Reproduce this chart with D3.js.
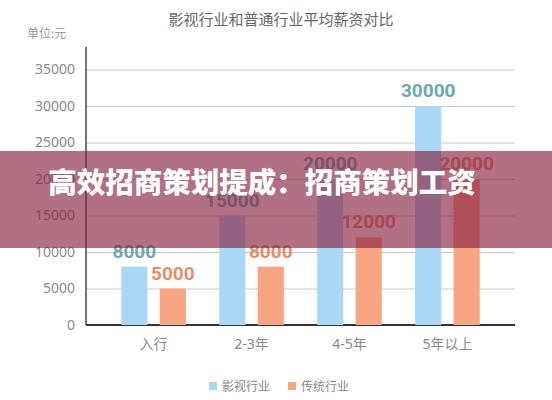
<!DOCTYPE html>
<html lang="zh">
  <head>
    <meta charset="utf-8" />
    <title>影视行业和普通行业平均薪资对比</title>
    <script src="https://d3js.org/d3.v7.min.js"></script>
    <style>
      body {
        margin: 0;
        background: #fff;
      }
      svg {
        display: block;
        font-family: "Noto Sans CJK SC", "Noto Sans", sans-serif;
      }
      .tick text {
        fill: #8a8a8a;
        font-size: 14px;
        font-family: "Noto Sans", "Noto Sans CJK SC", sans-serif;
      }
      .value {
        font-family: Roboto, sans-serif;
        font-weight: 700;
        font-size: 19px;
        text-anchor: middle;
      }
    </style>
  </head>
  <body>
    <svg id="chart" width="552" height="400"></svg>
    <script>
      // 数据
      const categories = ["入行", "2-3年", "4-5年", "5年以上"];
      const seriesNames = ["影视行业", "传统行业"];
      const filmValues = [8000, 15000, 20000, 30000];
      const tradValues = [5000, 8000, 12000, 20000];
      const yTicks = [0, 5000, 10000, 15000, 20000, 25000, 30000, 35000];

      const barColors = ["#aad7f6", "#f8a583"];
      const labelColors = ["#6ea8ae", "#e48f66"];

      const svg = d3.select("#chart");
      const left = 86,
        right = 515,
        bottom = 325;

      const y = d3.scaleLinear().domain([0, 35000]).range([bottom, 69.5]);

      const x0 = d3
        .scaleBand()
        .domain(categories)
        .range([left, right])
        .paddingInner(0.34)
        .paddingOuter(0.36);

      const x1 = d3
        .scaleBand()
        .domain(seriesNames)
        .range([0, x0.bandwidth()])
        .paddingInner(0.32);

      // 网格线 + y轴刻度
      const yAxis = svg
        .append("g")
        .attr("transform", `translate(${left},0)`)
        .call(
          d3
            .axisLeft(y)
            .tickValues(yTicks)
            .tickFormat(d3.format("d"))
            .tickSize(-(right - left))
            .tickPadding(11)
        );
      yAxis.select(".domain").remove();
      yAxis.selectAll(".tick line").attr("stroke", "#c8c8c8");

      // 轴线
      svg
        .append("line")
        .attr("x1", left)
        .attr("x2", left)
        .attr("y1", 47)
        .attr("y2", bottom)
        .attr("stroke", "#444")
        .attr("stroke-width", 1.5);
      svg
        .append("line")
        .attr("x1", left)
        .attr("x2", right)
        .attr("y1", bottom)
        .attr("y2", bottom)
        .attr("stroke", "#333")
        .attr("stroke-width", 2);

      // x轴标签
      const xAxis = svg
        .append("g")
        .attr("transform", `translate(0,${bottom})`)
        .call(d3.axisBottom(x0).tickSize(0).tickPadding(14));
      xAxis.select(".domain").remove();

      // 柱子
      const rows = categories.map((c, i) => ({
        cat: c,
        vals: [filmValues[i], tradValues[i]],
      }));

      const groups = svg
        .append("g")
        .selectAll("g")
        .data(rows)
        .join("g")
        .attr("transform", (d) => `translate(${x0(d.cat)},0)`);

      groups
        .selectAll("rect")
        .data((d) => d.vals.map((v, j) => ({ v, j })))
        .join("rect")
        .attr("x", (d) => x1(seriesNames[d.j]))
        .attr("width", x1.bandwidth())
        .attr("y", (d) => y(d.v))
        .attr("height", (d) => bottom - y(d.v))
        .attr("fill", (d) => barColors[d.j]);

      groups
        .selectAll("text")
        .data((d) => d.vals.map((v, j) => ({ v, j })))
        .join("text")
        .attr("class", "value")
        .attr("x", (d) => x1(seriesNames[d.j]) + x1.bandwidth() / 2)
        .attr("y", (d) => y(d.v) - 9)
        .attr("fill", (d) => labelColors[d.j])
        .text((d) => d.v);

      // 标题
      svg
        .append("text")
        .attr("x", 281)
        .attr("y", 25)
        .attr("text-anchor", "middle")
        .attr("font-size", 15)
        .attr("fill", "#666")
        .text("影视行业和普通行业平均薪资对比");

      svg
        .append("text")
        .attr("x", 27)
        .attr("y", 38)
        .attr("font-size", 12)
        .attr("fill", "#999")
        .text("单位:元");

      // 图例
      const legend = svg
        .append("g")
        .selectAll("g")
        .data(seriesNames)
        .join("g")
        .attr("transform", (d, i) => `translate(${209 + i * 79},382)`);
      legend
        .append("rect")
        .attr("width", 8)
        .attr("height", 8)
        .attr("fill", (d, i) => barColors[i]);
      legend
        .append("text")
        .attr("x", 13)
        .attr("y", 8.5)
        .attr("font-size", 12)
        .attr("fill", "#888")
        .text((d) => d);

      // 横幅
      svg
        .append("rect")
        .attr("x", 0)
        .attr("y", 151)
        .attr("width", 552)
        .attr("height", 97)
        .attr("fill", "rgb(134,32,62)")
        .attr("fill-opacity", 0.64);
      svg
        .append("text")
        .attr("x", 262)
        .attr("y", 193)
        .attr("text-anchor", "middle")
        .attr("font-size", 28.5)
        .attr("font-weight", 900)
        .attr("fill", "#fff")
        .text("高效招商策划提成：招商策划工资");
    </script>
  </body>
</html>
